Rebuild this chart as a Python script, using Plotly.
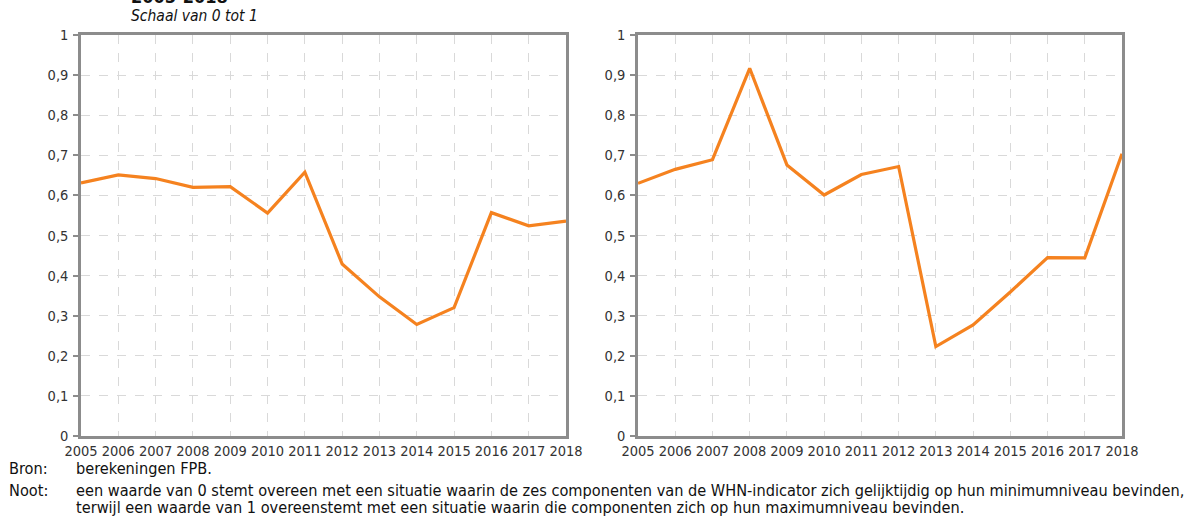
import plotly.graph_objects as go

years = list(range(2005, 2019))
left_values = [0.631, 0.651, 0.642, 0.620, 0.622, 0.556, 0.658, 0.429, 0.347, 0.278, 0.320, 0.557, 0.524, 0.536]
right_values = [0.630, 0.665, 0.689, 0.917, 0.676, 0.601, 0.652, 0.672, 0.223, 0.277, 0.359, 0.445, 0.444, 0.704]
y_tick_vals = [0, 0.1, 0.2, 0.3, 0.4, 0.5, 0.6, 0.7, 0.8, 0.9, 1.0]
y_tick_labels = ["0", "0,1", "0,2", "0,3", "0,4", "0,5", "0,6", "0,7", "0,8", "0,9", "1"]
x_tick_labels = [str(y) for y in years]

W, H = 1195, 517
FONT = "DejaVu Sans Condensed, DejaVu Sans"
LINE_COLOR = "#F5821F"
AXIS_COLOR = "#8C8C8C"
GRID_COLOR = "#D9D9D9"
TEXT_COLOR = "#333333"

fig = go.Figure()
fig.add_trace(go.Scatter(x=years, y=left_values, mode="lines",
                         line=dict(color=LINE_COLOR, width=3.2),
                         xaxis="x", yaxis="y", showlegend=False))
fig.add_trace(go.Scatter(x=years, y=right_values, mode="lines",
                         line=dict(color=LINE_COLOR, width=3.2),
                         xaxis="x2", yaxis="y2", showlegend=False))

def px_x(p):
    return p / W

def px_y(p):
    return (H - p) / H

ydom = [px_y(436), px_y(35)]

xaxis_common = dict(range=[2005, 2018], tickvals=years, ticktext=x_tick_labels,
                    showgrid=True, gridcolor=GRID_COLOR, griddash="dash", gridwidth=1,
                    showline=True, linecolor=AXIS_COLOR, linewidth=2.5, mirror=True,
                    ticks="", zeroline=False, automargin=False,
                    tickfont=dict(family=FONT, size=14.5, color=TEXT_COLOR))
yaxis_common = dict(range=[0, 1], tickvals=y_tick_vals, ticktext=y_tick_labels,
                    showgrid=True, gridcolor=GRID_COLOR, griddash="dash", gridwidth=1,
                    showline=True, linecolor=AXIS_COLOR, linewidth=2.5, mirror=True,
                    ticks="outside", ticklen=5, tickcolor=AXIS_COLOR, tickwidth=1.5,
                    ticklabelstandoff=2,
                    zeroline=False, automargin=False, domain=ydom,
                    tickfont=dict(family=FONT, size=14.5, color=TEXT_COLOR))

fig.update_layout(
    width=W, height=H,
    margin=dict(l=0, r=0, t=0, b=0),
    paper_bgcolor="white", plot_bgcolor="white",
    xaxis=dict(xaxis_common, domain=[px_x(81), px_x(566)], anchor="y"),
    yaxis=dict(yaxis_common, anchor="x"),
    xaxis2=dict(xaxis_common, domain=[px_x(638), px_x(1122)], anchor="y2"),
    yaxis2=dict(yaxis_common, anchor="x2"),
    font=dict(family=FONT, size=14.5, color=TEXT_COLOR),
)

FOOT = 16.2
annotations = [
    dict(text="<b>2005-2018</b>", x=px_x(129), y=px_y(-4), xanchor="left", yanchor="middle",
         font=dict(family=FONT, size=18, color="#111111")),
    dict(text="<i>Schaal van 0 tot 1</i>", x=px_x(129), y=px_y(16), xanchor="left", yanchor="middle",
         font=dict(family=FONT, size=15.5, color="#111111")),
    dict(text="Bron:", x=px_x(7), y=px_y(468), xanchor="left", yanchor="middle",
         font=dict(family=FONT, size=FOOT, color="#111111")),
    dict(text="berekeningen FPB.", x=px_x(74), y=px_y(468), xanchor="left", yanchor="middle",
         font=dict(family=FONT, size=FOOT, color="#111111")),
    dict(text="Noot:", x=px_x(7), y=px_y(490), xanchor="left", yanchor="middle",
         font=dict(family=FONT, size=FOOT, color="#111111")),
    dict(text="een waarde van 0 stemt overeen met een situatie waarin de zes componenten van de WHN-indicator zich gelijktijdig op hun minimumniveau bevinden,",
         x=px_x(74), y=px_y(490), xanchor="left", yanchor="middle",
         font=dict(family=FONT, size=FOOT, color="#111111")),
    dict(text="terwijl een waarde van 1 overeenstemt met een situatie waarin die componenten zich op hun maximumniveau bevinden.",
         x=px_x(74), y=px_y(507), xanchor="left", yanchor="middle",
         font=dict(family=FONT, size=FOOT, color="#111111")),
]
for a in annotations:
    a.update(xref="paper", yref="paper", showarrow=False)
fig.update_layout(annotations=annotations)

fig.write_html("out.html", config={"displayModeBar": False},
               post_script="document.body.style.margin='0';document.body.style.padding='0';document.body.style.overflow='hidden';")
